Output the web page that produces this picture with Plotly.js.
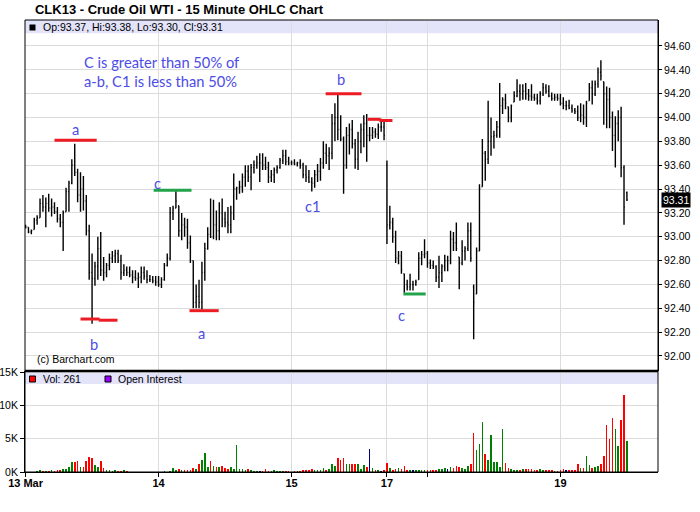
<!DOCTYPE html>
<html><head><meta charset="utf-8">
<script src="https://cdn.plot.ly/plotly-3.0.1.min.js"></script>
<style>html,body{margin:0;padding:0;background:#fff}#chart{width:700px;height:512px}</style>
</head><body><div id="chart"></div>
<script>
// ---- data (each slot = one 30-minute bar) ----
const dayTickSlots  = [0, 46, 92, 125, 139, 185];
const dayTickLabels = ['13 Mar', '14', '15', '17', '', '19'];
const priceTicks = [92.00, 92.20, 92.40, 92.60, 92.80, 93.00, 93.20, 93.40, 93.60, 93.80, 94.00, 94.20, 94.40, 94.60];
const volTicks = [0, 5000, 10000, 15000];
const volTickLabels = ['0K', '5K', '10K', '15K'];

const openP = [
93.09,93.08,93.04,93.06,93.14,93.16,93.28,93.25,93.28,93.24,93.25,93.21,93.15,93.12,93.21,93.38,93.45,93.60,93.54,93.35,93.40,93.30,93.05,92.70,92.65,92.75,92.90,92.72,92.70,92.76,92.82,92.84,92.86,92.80,92.70,92.72,92.70,92.68,92.66,92.65,92.66,92.70,92.67,92.64,92.64,92.63,
92.62,92.60,92.64,92.76,92.82,93.20,93.24,93.26,93.05,93.10,93.08,92.95,92.80,92.45,92.50,92.45,92.70,92.90,93.02,93.00,93.10,93.05,93.20,93.15,93.12,93.10,93.20,93.40,93.41,93.42,93.50,93.55,93.50,93.58,93.60,93.62,93.62,93.60,93.58,93.50,93.52,93.56,93.58,93.64,93.68,93.63,
93.62,93.62,93.61,93.62,93.60,93.52,93.50,93.46,93.45,93.52,93.55,93.62,93.70,93.68,93.70,93.95,94.00,93.90,93.82,93.60,93.85,93.90,93.78,93.65,93.80,93.90,93.95,93.85,93.85,93.88,93.86,93.92,93.92,
93.60,93.10,93.12,93.00,92.82,92.84,92.69,92.60,92.58,92.60,92.60,92.64,92.82,92.85,
92.86,92.78,92.76,92.75,92.66,92.70,92.75,92.80,92.80,92.98,92.95,92.83,92.78,92.88,92.90,93.05,92.58,92.52,92.88,93.42,93.70,93.65,93.80,93.84,93.85,93.92,94.10,94.15,94.09,94.00,94.13,94.18,94.22,94.20,94.22,94.20,94.18,94.17,94.16,94.14,94.20,94.25,94.22,94.18,94.16,94.17,
94.16,94.12,94.10,94.10,94.08,94.06,94.05,94.00,94.02,94.00,94.14,94.25,94.20,94.28,94.38,94.30,94.20,94.15,94.00,93.85,93.95,94.00,93.58,93.37];

const highP = [
93.10,93.08,93.06,93.16,93.18,93.32,93.35,93.33,93.36,93.32,93.29,93.25,93.19,93.22,93.41,93.47,93.65,93.78,93.57,93.54,93.51,93.35,93.10,92.86,92.79,93.00,93.04,92.83,92.78,92.86,92.88,92.89,92.89,92.85,92.77,92.75,92.75,92.72,92.72,92.70,92.75,92.75,92.72,92.68,92.67,92.67,
92.67,92.66,92.78,92.86,93.25,93.26,93.39,93.26,93.20,93.16,93.15,93.01,92.80,92.60,92.64,92.79,92.95,93.08,93.32,93.31,93.22,93.29,93.32,93.21,93.25,93.26,93.53,93.42,93.47,93.53,93.60,93.60,93.61,93.64,93.68,93.70,93.70,93.67,93.63,93.56,93.58,93.60,93.66,93.73,93.73,93.67,
93.64,93.65,93.63,93.65,93.62,93.60,93.56,93.50,93.56,93.61,93.66,93.80,93.78,93.75,94.03,94.12,94.19,94.02,93.84,93.92,93.95,93.98,93.82,93.88,93.95,94.02,94.03,93.92,93.92,93.91,93.95,93.99,93.98,
93.64,93.26,93.16,93.05,92.88,92.88,92.69,92.64,92.69,92.63,92.64,92.87,92.88,92.98,
92.88,92.81,92.80,92.76,92.84,92.77,92.85,92.84,93.05,93.04,93.12,92.83,92.97,92.92,93.12,93.12,92.60,92.91,93.44,93.82,93.72,94.14,94.00,93.89,93.97,94.29,94.17,94.20,94.09,94.11,94.22,94.32,94.28,94.28,94.29,94.24,94.28,94.20,94.20,94.22,94.29,94.28,94.27,94.21,94.20,94.20,
94.20,94.17,94.14,94.15,94.11,94.08,94.10,94.12,94.11,94.14,94.29,94.31,94.31,94.42,94.48,94.30,94.26,94.25,94.05,94.01,94.06,94.09,93.60,93.38];

const lowP = [
93.07,93.03,93.02,93.06,93.10,93.16,93.21,93.08,93.21,93.17,93.19,93.12,93.08,92.88,93.21,93.21,93.44,93.51,93.29,93.21,93.22,93.01,92.64,92.27,92.59,92.64,92.67,92.63,92.66,92.72,92.78,92.78,92.78,92.64,92.67,92.67,92.66,92.61,92.63,92.57,92.61,92.64,92.61,92.62,92.61,92.59,
92.58,92.57,92.63,92.75,92.80,93.14,93.24,93.00,92.97,93.00,92.90,92.78,92.40,92.40,92.40,92.39,92.63,92.89,92.99,92.98,92.97,92.97,93.08,93.08,93.03,93.03,93.14,93.31,93.36,93.37,93.42,93.46,93.39,93.53,93.57,93.46,93.56,93.56,93.45,93.46,93.45,93.53,93.57,93.61,93.60,93.60,
93.60,93.60,93.59,93.57,93.49,93.46,93.45,93.38,93.41,93.46,93.47,93.57,93.61,93.56,93.65,93.80,93.81,93.80,93.36,93.57,93.69,93.74,93.57,93.56,93.70,93.75,93.63,93.80,93.82,93.83,93.82,93.88,93.81,
92.94,93.06,92.95,92.78,92.77,92.69,92.53,92.55,92.55,92.55,92.59,92.64,92.76,92.82,
92.74,92.73,92.73,92.62,92.57,92.62,92.71,92.71,92.77,92.88,92.88,92.56,92.76,92.80,92.88,92.79,92.14,92.52,92.88,93.42,93.47,93.61,93.68,93.74,93.83,93.83,94.03,94.07,93.96,93.96,94.13,94.17,94.14,94.15,94.15,94.14,94.14,94.14,94.11,94.11,94.18,94.20,94.17,94.14,94.14,94.14,
94.10,94.07,94.06,94.07,94.04,94.03,93.97,93.96,93.94,93.92,94.14,94.11,94.18,94.25,94.31,93.94,93.91,93.91,93.72,93.58,93.80,93.50,93.10,93.30];

const closeP = [
93.08,93.04,93.05,93.14,93.16,93.28,93.25,93.28,93.24,93.25,93.21,93.15,93.12,93.20,93.38,93.45,93.60,93.54,93.35,93.40,93.30,93.05,92.70,92.65,92.75,92.90,92.72,92.70,92.76,92.82,92.84,92.86,92.80,92.70,92.72,92.70,92.68,92.66,92.65,92.66,92.70,92.67,92.64,92.64,92.63,92.62,
92.60,92.64,92.76,92.82,93.20,93.24,93.30,93.05,93.10,93.08,92.95,92.80,92.45,92.50,92.45,92.70,92.90,93.02,93.00,93.10,93.05,93.20,93.15,93.12,93.10,93.20,93.40,93.41,93.42,93.50,93.55,93.50,93.58,93.60,93.62,93.62,93.60,93.58,93.50,93.52,93.56,93.58,93.64,93.68,93.63,93.62,
93.62,93.61,93.62,93.60,93.52,93.50,93.46,93.45,93.52,93.55,93.62,93.70,93.68,93.70,93.95,94.00,93.90,93.82,93.60,93.85,93.90,93.78,93.65,93.80,93.90,93.95,93.85,93.85,93.88,93.86,93.92,93.92,93.85,
93.10,93.12,93.00,92.82,92.84,92.72,92.60,92.58,92.60,92.60,92.62,92.82,92.85,92.86,
92.78,92.76,92.75,92.66,92.70,92.75,92.80,92.80,92.98,92.95,92.90,92.78,92.88,92.90,93.05,92.82,92.45,92.88,93.40,93.70,93.65,93.80,93.84,93.85,93.92,94.10,94.15,94.12,94.00,94.10,94.18,94.22,94.20,94.22,94.20,94.18,94.17,94.16,94.14,94.20,94.25,94.22,94.18,94.16,94.17,94.16,
94.12,94.10,94.10,94.08,94.06,94.05,94.00,94.02,94.00,94.12,94.25,94.20,94.28,94.38,94.35,94.20,94.15,94.00,93.85,93.95,94.00,93.58,93.25,93.31];

const volume = [
50,40,40,60,80,250,200,100,100,250,100,300,350,500,400,700,1500,1500,1650,750,800,1700,2300,2100,1100,700,1600,600,350,300,200,250,150,200,250,100,60,50,70,40,50,60,40,50,60,50,
60,50,80,60,100,650,250,400,300,250,250,350,650,500,1200,1750,2850,800,1650,950,700,750,850,650,500,750,500,4000,400,500,350,500,250,200,100,150,100,450,100,150,250,150,100,150,100,100,
50,100,100,150,250,250,350,450,350,350,350,650,350,450,1250,850,2050,1850,2150,1150,1150,1150,1150,1200,500,1100,750,3500,550,350,250,200,250,
1350,550,300,500,550,500,850,350,250,250,250,250,250,250,
250,250,250,250,450,450,650,450,750,650,850,750,650,500,850,1200,5800,3350,4250,7500,2650,1850,5500,1500,1500,750,6400,1300,650,400,300,350,250,450,500,500,500,250,250,450,250,250,250,250,100,200,
300,450,250,250,250,350,1250,650,600,2350,1000,650,800,850,1150,2350,7100,4900,8100,6400,3850,7800,11600,4600];

const lastBar = {open: 93.37, high: 93.38, low: 93.30, close: 93.31};
const lastVolume = 261;

// wave levels drawn on the chart (slot start, slot end, price)
const levelStart = [10.0, 19.0, 25.3, 44.3, 56.7, 103.8, 118.3, 122.4, 130.7];
const levelEnd   = [24.6, 25.6, 31.8, 57.4, 66.8, 116.2, 122.8, 126.9, 138.4];
const levelPrice = [93.81, 92.31, 92.30, 93.39, 92.38, 94.20, 93.985, 93.975, 92.52];
const levelKind  = ['r', 'r', 'r', 'g', 'r', 'r', 'r', 'r', 'g'];
const labelText  = ['a', 'b', 'c', 'a', 'b', 'c1', 'c'];
const labelSlot  = [17.3, 23.5, 45.7, 60.9, 109.0, 99.3, 130.1];
const labelPrice = [93.90, 92.10, 93.45, 92.19, 94.32, 93.26, 92.34];
const noteLines  = ['C is greater than 50% of', 'a-b, C1 is less than 50%'];

// ---- layout helpers ----
const W = 700, H = 512, ML = 25, MR = 42, MT = 20, MB = 40;
const plotW = W - ML - MR, plotH = H - MT - MB;
const split = (H - MB - 371) / plotH;
const xp = px => (px - ML) / plotW;
const yp = py => (H - MB - py) / plotH;
const slots = openP.map((_, i) => i);
const xRange = [-0.2, -0.2 + plotW / 2.891];

const volColors = closeP.map((c, i) => {
  const prev = i === 0 ? openP[0] : closeP[i - 1];
  if (c > prev) return '#007f00';
  if (c < prev) return '#ff0000';
  return '#000080';
});

const ohlc = {
  type: 'ohlc', x: slots, open: openP, high: highP, low: lowP, close: closeP,
  increasing: {line: {color: '#000000', width: 1.4}},
  decreasing: {line: {color: '#000000', width: 1.4}},
  tickwidth: 0.3, xaxis: 'x', yaxis: 'y', hoverinfo: 'skip', showlegend: false
};
const vol = {
  type: 'bar', x: slots, y: volume, width: 0.55,
  marker: {color: volColors, line: {width: 0}},
  xaxis: 'x2', yaxis: 'y2', hoverinfo: 'skip', showlegend: false
};

const grid = '#dcdcdc';
const baseFont = {family: 'Liberation Sans, Arial, sans-serif', size: 10.5, color: '#000'};
const noteFont = {family: 'Lato, sans-serif', size: 14.7, color: '#4c4ce6'};

const shapes = [
  {type: 'rect', xref: 'paper', yref: 'paper', x0: 0, x1: 1, y0: yp(33.3), y1: 1, fillcolor: '#e3e3fa', line: {width: 0}, layer: 'below'},
  {type: 'rect', xref: 'paper', yref: 'paper', x0: 0, x1: 1, y0: yp(384), y1: yp(371), fillcolor: '#e3e3fa', line: {width: 0}, layer: 'below'},
  {type: 'rect', xref: 'paper', yref: 'paper', x0: 0, x1: 1, y0: split, y1: 1, line: {color: '#000', width: 1}, layer: 'above'},
  {type: 'rect', xref: 'paper', yref: 'paper', x0: 0, x1: 1, y0: 0, y1: split, line: {color: '#000', width: 1}, layer: 'above'},
  {type: 'line', xref: 'paper', yref: 'paper', x0: 0, x1: 1, y0: split, y1: split, line: {color: '#000', width: 2.5}, layer: 'above'},
  {type: 'rect', xref: 'paper', yref: 'paper', x0: xp(29.5), x1: xp(35.5), y0: yp(30.5), y1: yp(24.5), fillcolor: '#000', line: {width: 0}},
  {type: 'rect', xref: 'paper', yref: 'paper', x0: xp(29.5), x1: xp(35.5), y0: yp(382), y1: yp(376), fillcolor: '#ff0000', line: {color: '#000', width: 1}},
  {type: 'rect', xref: 'paper', yref: 'paper', x0: xp(105), x1: xp(111), y0: yp(382), y1: yp(376), fillcolor: '#9900ff', line: {color: '#000', width: 1}}
];
levelPrice.forEach((p, i) => shapes.push({
  type: 'line', xref: 'x', yref: 'y', x0: levelStart[i], x1: levelEnd[i], y0: p, y1: p,
  line: {color: levelKind[i] === 'r' ? '#ec1c24' : '#22a34a', width: 3}, layer: 'above'
}));

const annotations = [
  {xref: 'paper', yref: 'paper', x: xp(41), y: yp(27), xanchor: 'left', yanchor: 'middle', showarrow: false,
   text: 'Op:' + lastBar.open.toFixed(2) + ', Hi:' + lastBar.high.toFixed(2) + ', Lo:' + lastBar.low.toFixed(2) + ', Cl:' + lastBar.close.toFixed(2), font: baseFont},
  {xref: 'paper', yref: 'paper', x: xp(41), y: yp(379), xanchor: 'left', yanchor: 'middle', showarrow: false, text: 'Vol: ' + lastVolume, font: baseFont},
  {xref: 'paper', yref: 'paper', x: xp(116), y: yp(379), xanchor: 'left', yanchor: 'middle', showarrow: false, text: 'Open Interest', font: baseFont},
  {xref: 'paper', yref: 'paper', x: xp(36), y: yp(352), xanchor: 'left', yanchor: 'top', showarrow: false, text: '(c) Barchart.com', font: baseFont, borderpad: 0},
  {xref: 'paper', yref: 'paper', x: xp(82), y: yp(62), xanchor: 'left', yanchor: 'middle', showarrow: false, text: noteLines[0], font: noteFont},
  {xref: 'paper', yref: 'paper', x: xp(82), y: yp(81.5), xanchor: 'left', yanchor: 'middle', showarrow: false, text: noteLines[1], font: noteFont},
  {xref: 'paper', yref: 'y', x: 1, xshift: 3, y: lastBar.close, xanchor: 'left', yanchor: 'middle', showarrow: false,
   text: lastBar.close.toFixed(2), bgcolor: '#000', borderpad: 1, font: {family: baseFont.family, size: 10.5, color: '#fff'}}
];
labelText.forEach((t, i) => annotations.push({
  xref: 'x', yref: 'y', x: labelSlot[i], y: labelPrice[i], xanchor: 'center', yanchor: 'middle',
  showarrow: false, text: t, font: noteFont, borderpad: 0
}));

const layout = {
  width: W, height: H, margin: {l: ML, r: MR, t: MT, b: MB, pad: 0},
  paper_bgcolor: '#fff', plot_bgcolor: '#fff', showlegend: false,
  title: {text: '<b>CLK13 - Crude Oil WTI - 15 Minute OHLC Chart</b>', x: 11 / W, xanchor: 'left', xref: 'paper',
          y: 1 - 9 / H, yanchor: 'middle', yref: 'container', font: {family: baseFont.family, size: 13, color: '#000'}, pad: {l: 0, t: 0}},
  xaxis: {domain: [0, 1], anchor: 'y', range: xRange, rangeslider: {visible: false}, tickmode: 'array', tickvals: dayTickSlots,
          ticktext: dayTickLabels, showticklabels: false, showgrid: true, gridcolor: grid, gridwidth: 1, zeroline: false, ticks: '', showline: false, fixedrange: true},
  xaxis2: {domain: [0, 1], anchor: 'y2', range: xRange, tickmode: 'array', tickvals: dayTickSlots, ticktext: dayTickLabels,
           showgrid: true, gridcolor: grid, gridwidth: 1, zeroline: false, ticks: 'outside', ticklen: 4, tickcolor: '#000',
           ticklabelstandoff: -3,
           tickfont: {family: baseFont.family, size: 11, color: '#000', weight: 'bold'}, showline: true, linecolor: '#000', linewidth: 1},
  yaxis: {domain: [split, 1], anchor: 'x', side: 'right', range: [91.874, 94.818], tickmode: 'array', tickvals: priceTicks,
          ticktext: priceTicks.map(v => v.toFixed(2)), showgrid: true, gridcolor: grid, gridwidth: 1, zeroline: false,
          ticks: 'outside', ticklen: 3, tickcolor: '#000', tickfont: baseFont, showline: true, linecolor: '#000', linewidth: 1},
  yaxis2: {domain: [0, split], anchor: 'x2', side: 'left', range: [0, 15190], tickmode: 'array', tickvals: volTicks,
           ticktext: volTickLabels, showgrid: true, gridcolor: grid, gridwidth: 1, zeroline: false,
           ticks: 'outside', ticklen: 4, tickcolor: '#000', tickfont: baseFont, showline: true, linecolor: '#000', linewidth: 1},
  bargap: 0, shapes: shapes, annotations: annotations
};

Plotly.newPlot('chart', [vol, ohlc], layout, {displayModeBar: false, staticPlot: true});
</script>
</body></html>
